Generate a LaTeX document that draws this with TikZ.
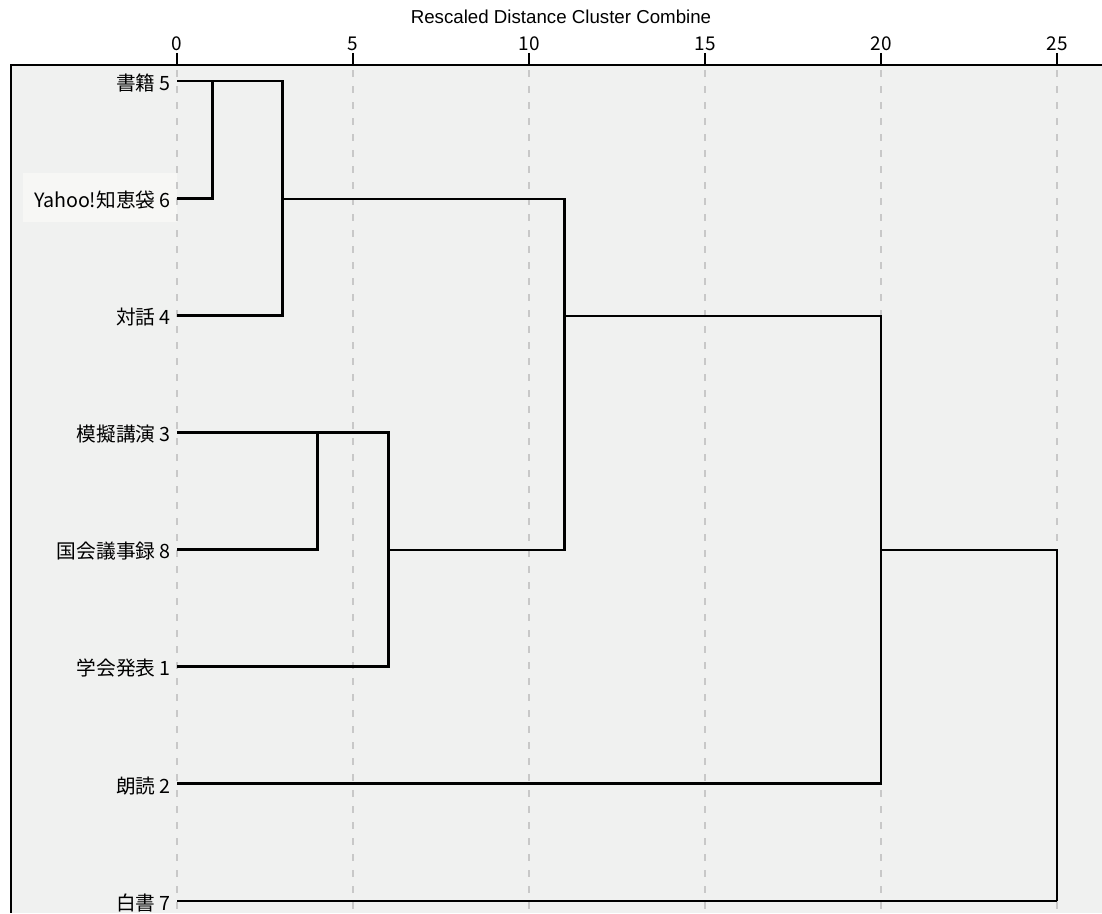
\documentclass[tikz,border=0pt]{standalone}
\usepackage{fontspec}
\setmainfont{Liberation Sans}
\newfontfamily\jpfont{Noto Sans CJK JP}
\definecolor{panel}{HTML}{F0F1F0}
\definecolor{gridgray}{HTML}{C8C8C8}
\definecolor{hilite}{HTML}{F7F7F5}
\tikzset{
  leaf/.style={anchor=base east,inner sep=0pt,font=\jpfont\fontsize{14}{16}\selectfont},
  ticklab/.style={inner sep=0pt,font=\jpfont\fontsize{13.5}{15}\selectfont},
  tree/.style={line width=0.07cm},
  frame/.style={line width=0.055cm},
  gridline/.style={gridgray,line width=0.035cm,dash pattern=on 0.18cm off 0.22cm}
}
\begin{document}
\begin{tikzpicture}[x=0.025cm,y=-0.025cm]
	\useasboundingbox (0,0) rectangle (1102,913);
	\fill[panel] (11,65) rectangle (1102,913);
	\fill[hilite] (23,173) rectangle (177,222);
	
	% grid and axis
	\foreach \d in {0,5,...,25}{
		\draw[gridline] ({177+35.2*\d},70) -- ({177+35.2*\d},913);
		\draw[frame] ({177+35.2*\d},53) -- ({177+35.2*\d},65);
		\node[ticklab] (t\d) at ({177+35.2*\d},43.5) {\d};
	}
	\draw[frame] (1102,65) -- (11,65) -- (11,913);
	\node[font=\fontsize{13.3}{15}\selectfont,inner sep=0pt] (title) at (561,17) {Rescaled Distance Cluster Combine};
	
	% leaves
	\foreach \n/\txt/\row in {5/書籍 5/0, 6/Yahoo!知恵袋 6/1, 4/対話 4/2, 3/模擬講演 3/3,
		8/国会議事録 8/4, 1/学会発表 1/5, 2/朗読 2/6, 7/白書 7/7}{
		\coordinate (r\n) at (177,{81+117.14*\row});
		\node[leaf] (l\n) at ([xshift=-0.15cm,yshift=-0.23cm]r\n) {\txt};
	}
	
	% joins
	\coordinate (c56) at (212.2,81);
	\coordinate (j1) at (282.6,199);
	\coordinate (c38) at (317.8,434);
	\coordinate (j2) at (388.2,550);
	\coordinate (j3) at (564.2,316);
	\coordinate (j4) at (881,550);
	\coordinate (j5) at (1057,901);
	
	\draw[tree] (r6) -| (c56);
	\draw[tree] (r5) -| (j1) |- (r4);
	\draw[tree] (r8) -| (c38);
	\draw[tree] (r3) -| (j2) |- (r1);
	\draw[tree] (j1) -| (j3) |- (j2);
	\draw[tree] (j3) -| (j4) |- (r2);
	\draw[tree] (j4) -| (j5) |- (r7);
\end{tikzpicture}
\end{document}
